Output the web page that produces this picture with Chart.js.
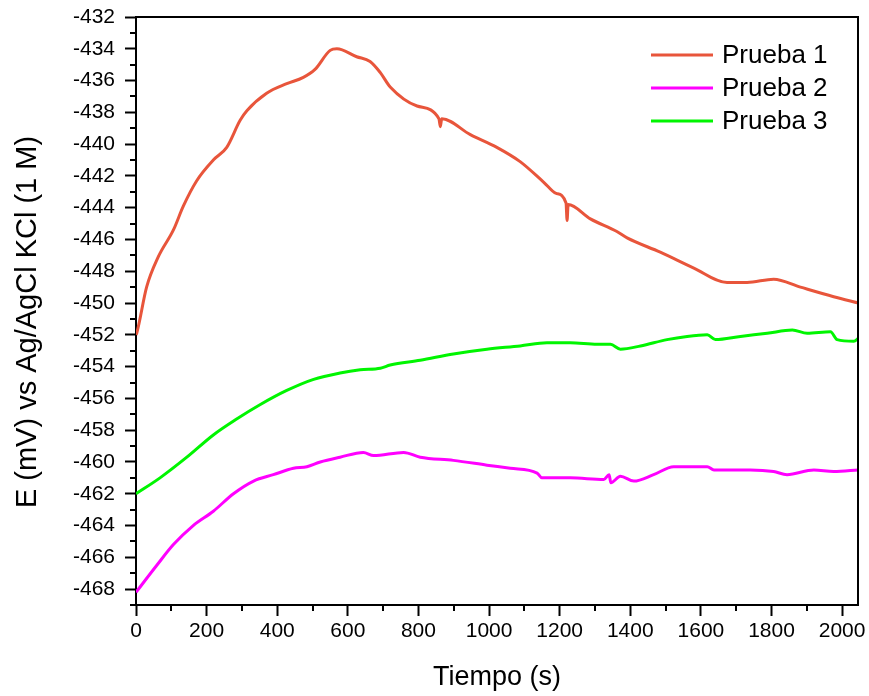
<!DOCTYPE html>
<html>
<head>
<meta charset="utf-8">
<script src="https://cdn.jsdelivr.net/npm/chart.js@4.4.1/dist/chart.umd.min.js"></script>
<style>
  html, body { margin: 0; padding: 0; background: #ffffff; }
  #wrap { width: 869px; height: 696px; position: relative; }
</style>
</head>
<body>
<div id="wrap"><canvas id="c" width="869" height="696"></canvas></div>
<script>
// ---- Data ----
const seriesLabels = ["Prueba 1", "Prueba 2", "Prueba 3"];

const p1Time = [0, 2, 30, 63, 106, 134, 172, 219, 257, 295, 314, 370, 427, 474, 507, 550, 569, 625, 663, 692, 720, 796, 858, 862, 866, 947, 1022, 1088, 1155, 1190, 1218, 1221, 1224, 1287, 1362, 1391, 1485, 1580, 1674, 1731, 1806, 1882, 1976, 2047];
const p1Value = [-452.0, -451.9, -449.0, -447.1, -445.4, -443.9, -442.3, -441.0, -440.2, -438.5, -437.9, -436.8, -436.2, -435.8, -435.3, -434.1, -434.0, -434.5, -434.8, -435.5, -436.4, -437.6, -438.4, -438.9, -438.4, -439.4, -440.2, -441.1, -442.4, -443.1, -443.7, -444.8, -443.8, -444.7, -445.5, -445.9, -446.8, -447.8, -448.7, -448.7, -448.5, -449.0, -449.6, -450.0];

const p2Time = [0, 59, 106, 162, 219, 276, 333, 389, 446, 484, 522, 578, 644, 673, 758, 805, 899, 994, 1060, 1136, 1150, 1230, 1325, 1340, 1345, 1372, 1410, 1466, 1523, 1618, 1637, 1740, 1806, 1844, 1920, 1976, 2047];
const p2Value = [-468.2, -466.5, -465.2, -464.0, -463.1, -462.0, -461.2, -460.8, -460.4, -460.3, -460.0, -459.7, -459.4, -459.6, -459.4, -459.7, -459.9, -460.2, -460.4, -460.7, -461.0, -461.0, -461.1, -460.8, -461.3, -460.9, -461.2, -460.8, -460.3, -460.3, -460.5, -460.5, -460.6, -460.8, -460.5, -460.6, -460.5];

const p3Time = [0, 68, 144, 219, 285, 351, 427, 503, 578, 635, 692, 720, 805, 899, 994, 1088, 1164, 1230, 1306, 1344, 1372, 1429, 1504, 1561, 1618, 1641, 1712, 1788, 1859, 1901, 1967, 1986, 2033, 2047];
const p3Value = [-462.0, -461.0, -459.7, -458.3, -457.3, -456.4, -455.5, -454.8, -454.4, -454.2, -454.1, -453.9, -453.6, -453.2, -452.9, -452.7, -452.5, -452.5, -452.6, -452.6, -452.9, -452.7, -452.3, -452.1, -452.0, -452.3, -452.1, -451.9, -451.7, -451.9, -451.8, -452.3, -452.4, -452.2];

const xTitle = "Tiempo (s)";
const yTitle = "E (mV) vs Ag/AgCl KCl (1 M)";
const xMin = 0, xMax = 2045, xStep = 200;
const yMin = -469, yMax = -432, yStep = 2;

// ---- Styling ----
const FONT = '"Liberation Sans", Arial, Helvetica, sans-serif';
const colors = ["#E8553B", "#FF00FF", "#00F500"];

function pts(ts, vs) { return ts.map((t, i) => ({ x: t, y: vs[i] })); }

const frameAndMinor = {
  id: 'frameAndMinor',
  afterDraw(chart) {
    const ctx = chart.ctx;
    const { left, right, top, bottom } = chart.chartArea;
    const xs = chart.scales.x, ys = chart.scales.y;
    ctx.save();
    ctx.strokeStyle = '#000';
    ctx.lineWidth = 2;
    ctx.beginPath();
    ctx.moveTo(left, top); ctx.lineTo(right, top); ctx.lineTo(right, bottom);
    ctx.stroke();
    ctx.beginPath();
    for (let v = xMin + xStep / 2; v <= xMax; v += xStep) {
      const px = Math.round(xs.getPixelForValue(v));
      ctx.moveTo(px, bottom); ctx.lineTo(px, bottom + 6);
    }
    for (let v = yMin; v <= yMax; v += yStep) {
      if (Math.abs(v) % 2 === 1) {
        const py = Math.round(ys.getPixelForValue(v));
        ctx.moveTo(left, py); ctx.lineTo(left - 6, py);
      }
    }
    ctx.stroke();
    // legend inside the plot
    ctx.font = '26px ' + FONT;
    ctx.textBaseline = 'middle';
    ctx.textAlign = 'left';
    chart.data.datasets.forEach((ds, i) => {
      const y = top + 38 + 33 * i;
      const x0 = right - 207;
      ctx.strokeStyle = ds.borderColor;
      ctx.lineWidth = 3;
      ctx.beginPath(); ctx.moveTo(x0, y); ctx.lineTo(x0 + 62, y); ctx.stroke();
      ctx.fillStyle = '#000';
      ctx.fillText(ds.label, x0 + 71, y + 1);
    });
    // y axis title
    ctx.font = '29px ' + FONT;
    ctx.textAlign = 'center';
    ctx.textBaseline = 'middle';
    ctx.translate(28, (top + bottom) / 2 + 11);
    ctx.rotate(-Math.PI / 2);
    ctx.fillText(yTitle, 0, 0);
    ctx.restore();
  }
};

new Chart(document.getElementById('c'), {
  type: 'scatter',
  data: {
    datasets: [
      { label: seriesLabels[0], data: pts(p1Time, p1Value), borderColor: colors[0] },
      { label: seriesLabels[1], data: pts(p2Time, p2Value), borderColor: colors[1] },
      { label: seriesLabels[2], data: pts(p3Time, p3Value), borderColor: colors[2] }
    ].map(d => Object.assign(d, {
      showLine: true, pointRadius: 0, borderWidth: 3, backgroundColor: d.borderColor,
      cubicInterpolationMode: 'monotone', fill: false
    }))
  },
  options: {
    responsive: false,
    animation: false,
    layout: { padding: { left: 0, right: 11, top: 17, bottom: 0 } },
    plugins: { legend: { display: false }, tooltip: { enabled: false } },
    scales: {
      x: {
        type: 'linear', min: xMin, max: xMax,
        afterFit(s) { s.height = 91; s.paddingLeft = 0; s.paddingRight = 0; },
        ticks: { stepSize: xStep, includeBounds: false, color: '#000', font: { family: FONT, size: 21 }, padding: 3, maxRotation: 0, callback: v => String(v) },
        grid: { drawOnChartArea: false, drawTicks: true, tickLength: 11, tickColor: '#000', tickWidth: 2 },
        border: { display: true, color: '#000', width: 2 },
        title: { display: true, text: xTitle, color: '#000', font: { family: FONT, size: 27, lineHeight: 1.2 }, padding: { top: 0, bottom: 2 } }
      },
      y: {
        type: 'linear', min: yMin, max: yMax,
        afterFit(s) { s.width = 136; s.paddingTop = 0; s.paddingBottom = 0; },
        ticks: { stepSize: yStep, includeBounds: false, color: '#000', font: { family: FONT, size: 21 }, padding: 10, callback: v => String(v) },
        grid: { drawOnChartArea: false, drawTicks: true, tickLength: 11, tickColor: '#000', tickWidth: 2 },
        border: { display: true, color: '#000', width: 2 },
        title: { display: false }
      }
    }
  },
  plugins: [frameAndMinor]
});
</script>
</body>
</html>
